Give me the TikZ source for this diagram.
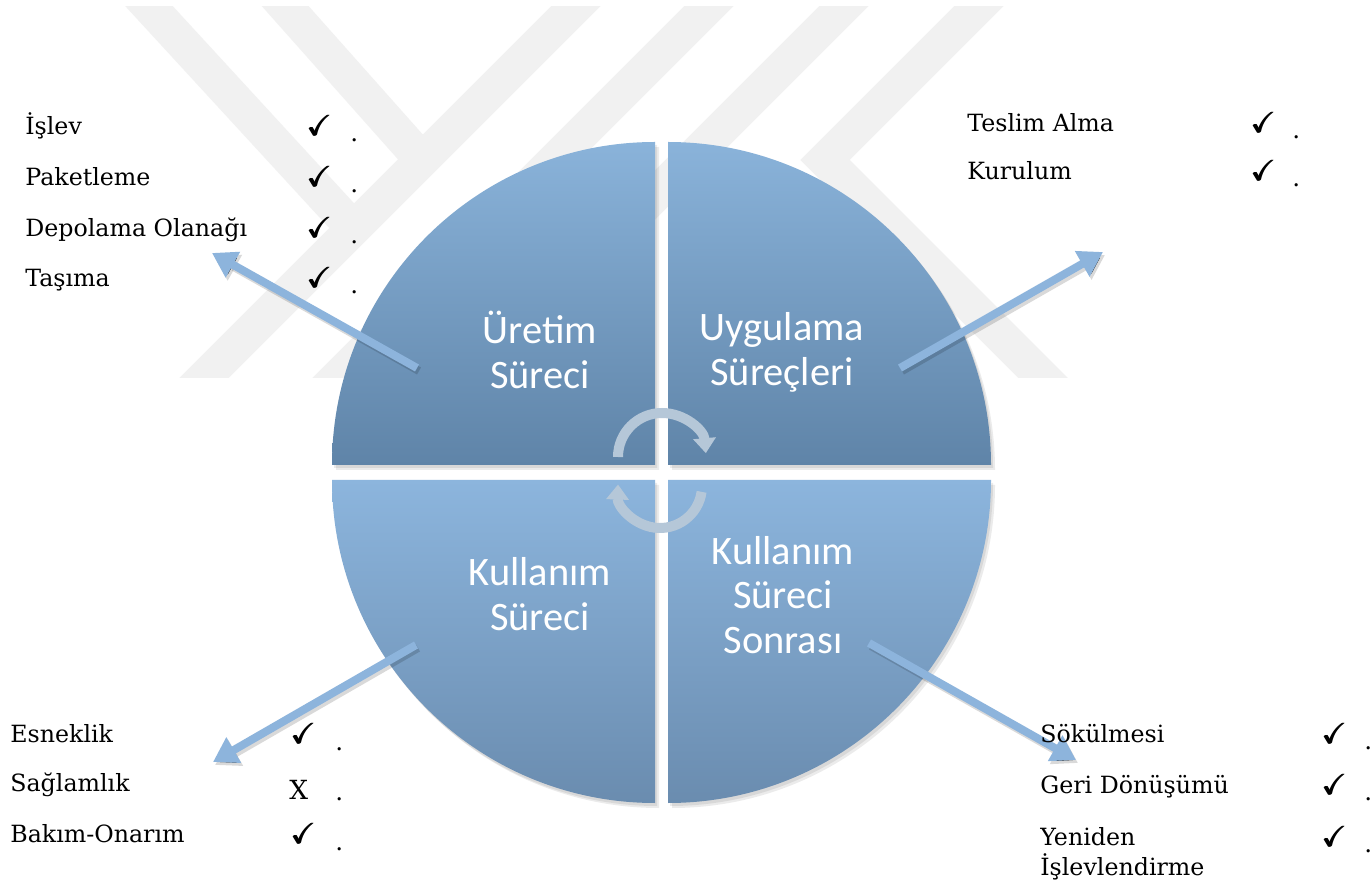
\documentclass[tikz,border=0pt]{standalone}
\usepackage{amssymb}
\usepackage{fontspec}
\newfontfamily\calib{Carlito}
\newfontfamily\listfont{DejaVu Serif}
\usetikzlibrary{arrows.meta}
\definecolor{wm}{HTML}{F1F1F1}
\definecolor{qlight}{HTML}{8AB3DA}
\definecolor{qdark}{HTML}{5F84A8}
\definecolor{qlighttwo}{HTML}{8CB5DD}
\definecolor{qdarktwo}{HTML}{6A8CAF}
\definecolor{arr}{HTML}{8DB4DC}
\definecolor{carr}{HTML}{B5C7D8}
\newcommand\heavycheck{\rlap{$\checkmark$}\kern0.45pt\rlap{$\checkmark$}\kern0.45pt$\checkmark$}
\tikzset{
  qlabel/.style={text=white, font=\calib\fontsize{23}{25.5}\selectfont, align=center, inner sep=0pt},
  item/.style={anchor=base west, font=\listfont\fontsize{13.5}{15}\selectfont, inner sep=0pt},
  tick/.style={anchor=base west, font=\fontsize{16.5}{17}\selectfont, inner sep=0pt},
  dotmark/.style={anchor=base west, font=\listfont\fontsize{14}{15}\selectfont, inner sep=0pt},
  bigarrow/.style={draw=arr, line width=0.16cm, -{Triangle[width=0.56cm,length=0.48cm]}},
  arrshadow/.style={draw=black, draw opacity=0.15, line width=0.16cm, -{Triangle[width=0.56cm,length=0.48cm]}},
  cycarrow/.style={draw=carr, line width=0.2cm, -{Triangle[width=0.44cm,length=0.3cm]}},
  band/.style={draw=wm, line width=0.7cm},
  qshadow/.style={fill=black, fill opacity=0.08},
}
\begin{document}
\begin{tikzpicture}[x=0.02cm, y=-0.02cm]
\useasboundingbox (0,0) rectangle (1372,884);
\fill[white] (0,0) rectangle (1372,884);
% watermark
\begin{scope}
  \clip (0,7) rectangle (1372,378);
  \draw[band] (125,-20) -- (353,228);
  \draw[band] (262,-20) -- (422,160);
  \draw[band] (602,-20) -- (187,395);
  \draw[band] (735,-20) -- (320,395);
  \draw[band] (870,-20) -- (455,395);
  \draw[band, miter limit=10] (1005,-20) -- (825,160) -- (1060,395);
\end{scope}
% quadrant shadows
\foreach \dx/\dy in {2/3,4/5}{
  \fill[qshadow] (655+\dx,465+\dy) -- (332+\dx,465+\dy) arc[start angle=180,end angle=270,radius=323] -- cycle;
  \fill[qshadow] (668+\dx,465+\dy) -- (668+\dx,142+\dy) arc[start angle=270,end angle=360,radius=323] -- cycle;
  \fill[qshadow] (655+\dx,480+\dy) -- (332+\dx,480+\dy) arc[start angle=180,end angle=90,radius=323] -- cycle;
  \fill[qshadow] (668+\dx,480+\dy) -- (991+\dx,480+\dy) arc[start angle=0,end angle=90,radius=323] -- cycle;
}
% quadrants
\shade[top color=qlight, bottom color=qdark] (655,465) -- (332,465) arc[start angle=180,end angle=270,radius=323] -- cycle;
\shade[top color=qlight, bottom color=qdark] (668,465) -- (668,142) arc[start angle=270,end angle=360,radius=323] -- cycle;
\shade[top color=qlighttwo, bottom color=qdarktwo] (655,480) -- (332,480) arc[start angle=180,end angle=90,radius=323] -- cycle;
\shade[top color=qlighttwo, bottom color=qdarktwo] (668,480) -- (991,480) arc[start angle=0,end angle=90,radius=323] -- cycle;
% quadrant labels
\node[qlabel] (uretim) at (540,350) {Üretim\\Süreci};
\node[qlabel] (uygulama) at (782,352) {Uygulama\\Süreçleri};
\node[qlabel] (kullanim) at (540,594) {Kullanım\\Süreci};
\node[qlabel] (sonrasi) at (783,595) {Kullanım\\Süreci\\Sonrası};
% arrow end points
\coordinate (tlA) at (417,368);
\coordinate (tlB) at (212,253);
\coordinate (trA) at (900,368);
\coordinate (trB) at (1103,252);
\coordinate (blA) at (416,645);
\coordinate (blB) at (213,762);
\coordinate (brA) at (869,643);
\coordinate (brB) at (1076,760);
\foreach \a/\b in {tlA/tlB,trA/trB,blA/blB,brA/brB}{
  \draw[arrshadow] ([shift={(2,3)}]\a) -- ([shift={(2,3)}]\b);
  \draw[bigarrow] (\a) -- (\b);
}
% cycle arrows
\coordinate (cyc1) at (662,457);
\coordinate (cyc2) at (660,486);
\draw[cycarrow] ([shift={(180:44)}]cyc1) arc[start angle=180,end angle=355,radius=44];
\draw[cycarrow] ([shift={(8:42)}]cyc2) arc[start angle=8,end angle=182,radius=42];
% top-left list
\node[item] (i1) at (25,135) {İşlev};
\node[item] (i2) at (25,186) {Paketleme};
\node[item] (i3) at (25,237) {Depolama Olanağı};
\node[item] (i4) at (25,287) {Taşıma};
\foreach \y [count=\k] in {136,187,238,288}{
  \node[tick] (c\k) at (306,\y) {\heavycheck};
  \node[dotmark] (d\k) at (350,\y+6) {.};
}
% top-right list
\node[item] (t1) at (967,132) {Teslim Alma};
\node[item] (t2) at (967,180) {Kurulum};
\foreach \y [count=\k] in {133,181}{
  \node[tick] (tc\k) at (1250,\y) {\heavycheck};
  \node[dotmark] (td\k) at (1292,\y+6) {.};
}
% bottom-left list
\node[item] (b1) at (10,742) {Esneklik};
\node[item] (b2) at (10,791) {Sağlamlık};
\node[item] (b3) at (10,842) {Bakım-Onarım};
\node[tick] (bc1) at (290,743) {\heavycheck};
\node[tick, font=\listfont\fontsize{15}{15}\selectfont] (bc2) at (289,799) {X};
\node[tick] (bc3) at (290,843) {\heavycheck};
\foreach \y [count=\k] in {750,800,850}{
  \node[dotmark] (bd\k) at (335,\y) {.};
}
% bottom-right list
\node[item] (r1) at (1040,742) {Sökülmesi};
\node[item] (r2) at (1040,793) {Geri Dönüşümü};
\node[item] (r3) at (1040,845) {Yeniden};
\node[item] (r4) at (1040,875) {İşlevlendirme};
\foreach \y [count=\k] in {743,794,846}{
  \node[tick] (rc\k) at (1321,\y) {\heavycheck};
  \node[dotmark] (rd\k) at (1364,\y+6) {.};
}
\end{tikzpicture}
\end{document}
